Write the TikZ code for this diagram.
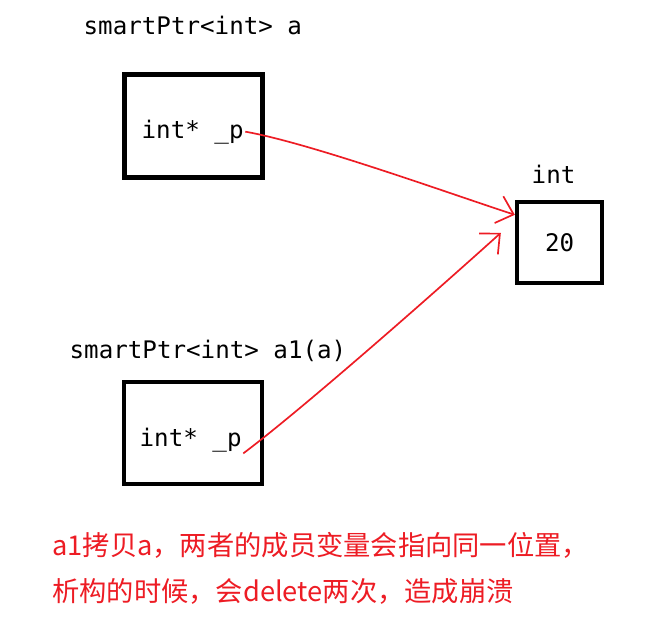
\documentclass[tikz,border=0pt]{standalone}
\usepackage{fontspec}
\setmonofont{DejaVu Sans Mono}
\newfontfamily\cjk{Noto Sans CJK SC}
\usetikzlibrary{arrows.meta,positioning}
\definecolor{ink}{HTML}{000000}
\definecolor{paintred}{HTML}{ED1C24}

\begin{document}
\begin{tikzpicture}[>=Latex,
  code/.style={font=\ttfamily\fontsize{17.2}{21}\selectfont,text=ink,inner sep=1pt},
  cell/.style={draw=ink,line width=3.2pt,inner sep=0pt},
  ptr/.style={-{Straight Barb[length=11pt,width=20pt]},paintred,line width=1.2pt}]
\useasboundingbox (0,0) rectangle (16.75,-15.675);

% object a
\node[code,anchor=base west] (nameA) at (2.05,-0.875) {smartPtr<int> a};
\node[cell,minimum width=3.45cm,minimum height=2.575cm] (boxA) at (4.8375,-3.15) {};
\node[code,anchor=base west] (pA) at (3.5,-3.45) {int* \_p};

% object a1
\node[code,anchor=base west] (nameB) at (1.7,-8.95) {smartPtr<int> a1(a)};
\node[cell,minimum width=3.45cm,minimum height=2.55cm] (boxB) at (4.825,-10.825) {};
\node[code,anchor=base west] (pB) at (3.45,-11.15) {int* \_p};

% the shared int
\node[cell,code,line width=3.2pt,minimum width=2.125cm,minimum height=2.025cm] (val) at (13.99,-6.06) {20};
\node[code,anchor=base west] (intLbl) at (13.25,-4.575) {int};

\coordinate (hitA) at ([yshift=0.69cm]val.west);
\coordinate (hitB) at ([xshift=-0.35cm,yshift=0.24cm]val.west);
\draw[ptr] (pA.east) to[out=-10,in=162,looseness=0.6] (hitA);
\draw[ptr] (pB.south east) to[out=37,in=-138,looseness=0.6] (hitB);

\node[anchor=west,inner sep=0pt,align=left,text=paintred,font=\cjk\fontsize{19.4}{32.7}\selectfont] (note) at (1.3,-14.22) {a1拷贝a，两者的成员变量会指向同一位置，\\析构的时候，会delete两次，造成崩溃};
\end{tikzpicture}
\end{document}
